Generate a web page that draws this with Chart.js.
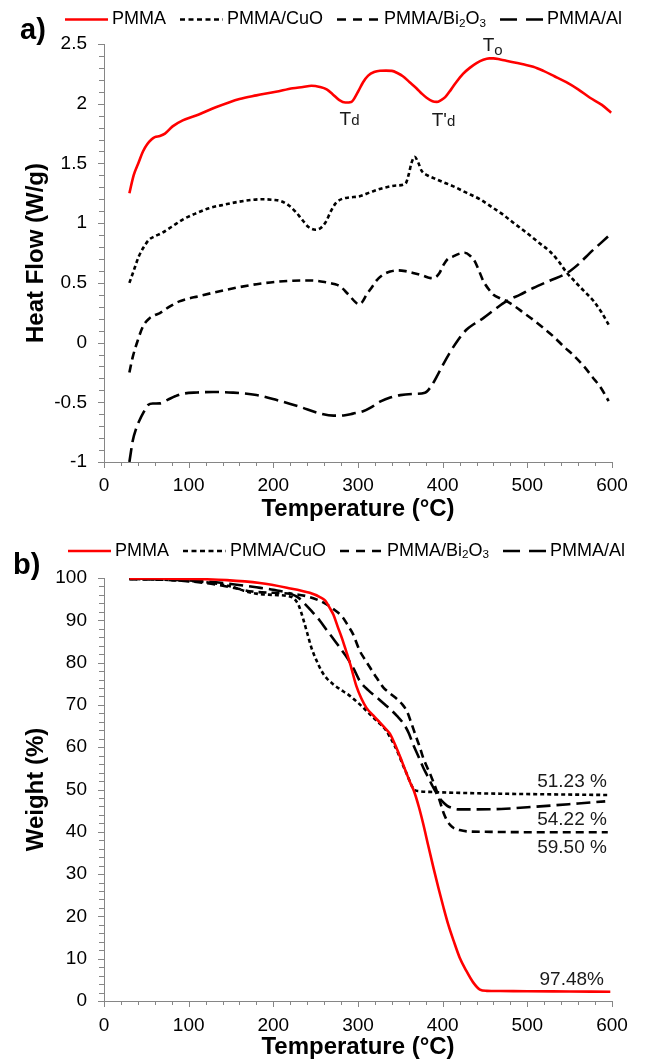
<!DOCTYPE html>
<html>
<head>
<meta charset="utf-8">
<script src="https://cdn.jsdelivr.net/npm/chart.js@4.4.0/dist/chart.umd.min.js"></script>
<style>
  html, body { margin: 0; padding: 0; background: #fff; }
  #wrap { position: relative; width: 646px; height: 1063px; }
  canvas { position: absolute; left: 0; }
  #dsc { top: 0; }
  #tga { top: 532px; }
</style>
</head>
<body>
<div id="wrap">
  <canvas id="dsc" width="646" height="532"></canvas>
  <canvas id="tga" width="646" height="531"></canvas>
</div>
<script>
// ---- data ----
const seriesNames = ["PMMA", "PMMA/CuO", "PMMA/Bi2O3", "PMMA/Al"];

const tempTicks = [0, 100, 200, 300, 400, 500, 600];
const heatTicks = [-1, -0.5, 0, 0.5, 1, 1.5, 2, 2.5];
const weightTicks = [0, 10, 20, 30, 40, 50, 60, 70, 80, 90, 100];

// a) heat flow (W/g)
const pmmaDscT = [30, 35, 41, 46, 51, 56, 60, 66, 72, 81, 93, 112, 132, 160, 180, 203, 223, 235, 245, 255, 263, 270, 278, 285, 292, 300, 306, 312, 319, 326, 333, 340, 347, 353, 361, 369, 376, 381, 388, 393, 398, 403, 410, 416, 424, 432, 440, 448, 455, 460, 468, 475, 485, 495, 507, 519, 532, 546, 560, 574, 588, 599];
const pmmaDscV = [1.25, 1.40, 1.51, 1.60, 1.66, 1.70, 1.72, 1.73, 1.75, 1.81, 1.86, 1.91, 1.97, 2.04, 2.07, 2.10, 2.13, 2.14, 2.15, 2.14, 2.12, 2.08, 2.03, 2.01, 2.015, 2.10, 2.18, 2.235, 2.265, 2.276, 2.277, 2.275, 2.255, 2.23, 2.18, 2.13, 2.08, 2.05, 2.02, 2.015, 2.03, 2.055, 2.12, 2.18, 2.25, 2.30, 2.34, 2.368, 2.38, 2.38, 2.37, 2.36, 2.345, 2.33, 2.31, 2.275, 2.23, 2.18, 2.12, 2.05, 1.99, 1.925];

const cuoDscT = [30, 35, 41, 47, 53, 60, 69, 80, 93, 108, 124, 142, 160, 175, 187, 200, 209, 218, 227, 235, 242, 250, 256, 262, 268, 274, 282, 290, 302, 315, 330, 345, 356, 360, 363, 367, 371, 375, 382, 390, 400, 412, 428, 444, 458, 471, 485, 499, 513, 527, 537, 546, 555, 563, 570, 578, 587, 596];
const cuoDscV = [0.50, 0.60, 0.72, 0.80, 0.86, 0.89, 0.92, 0.97, 1.03, 1.08, 1.125, 1.155, 1.18, 1.195, 1.20, 1.195, 1.185, 1.15, 1.09, 1.02, 0.965, 0.945, 0.96, 1.01, 1.10, 1.17, 1.205, 1.215, 1.225, 1.26, 1.295, 1.315, 1.33, 1.41, 1.50, 1.555, 1.51, 1.44, 1.40, 1.375, 1.345, 1.31, 1.255, 1.20, 1.135, 1.073, 0.995, 0.92, 0.84, 0.76, 0.68, 0.59, 0.52, 0.46, 0.41, 0.35, 0.26, 0.15];

const biDscT = [30, 34, 40, 46, 54, 60, 66, 75, 89, 113, 145, 184, 223, 245, 263, 272, 279, 285, 291, 296, 301, 305, 310, 316, 322, 330, 338, 347, 356, 365, 377, 386, 391, 396, 401, 406, 412, 420, 426, 432, 438, 443, 448, 454, 460, 468, 476, 486, 496, 508, 519, 531, 543, 555, 567, 577, 587, 596];
const biDscV = [-0.25, -0.12, 0.02, 0.135, 0.205, 0.23, 0.247, 0.29, 0.345, 0.39, 0.443, 0.493, 0.518, 0.52, 0.504, 0.49, 0.47, 0.43, 0.385, 0.345, 0.32, 0.34, 0.40, 0.46, 0.52, 0.57, 0.595, 0.605, 0.598, 0.583, 0.56, 0.54, 0.545, 0.58, 0.65, 0.70, 0.72, 0.745, 0.752, 0.73, 0.68, 0.60, 0.515, 0.45, 0.40, 0.37, 0.345, 0.30, 0.247, 0.185, 0.122, 0.05, -0.033, -0.11, -0.20, -0.29, -0.38, -0.49];

const alDscT = [30, 34, 38, 42, 47, 52, 58, 66, 75, 84, 92, 110, 129, 152, 180, 204, 231, 255, 271, 283, 294, 306, 316, 326, 338, 350, 365, 379, 386, 393, 400, 408, 418, 428, 438, 448, 462, 475, 491, 507, 527, 547, 561, 574, 587, 600];
const alDscV = [-1.0, -0.82, -0.72, -0.65, -0.58, -0.523, -0.51, -0.509, -0.48, -0.45, -0.43, -0.418, -0.414, -0.419, -0.439, -0.481, -0.537, -0.593, -0.612, -0.61, -0.595, -0.575, -0.54, -0.495, -0.46, -0.44, -0.43, -0.42, -0.37, -0.285, -0.19, -0.09, 0.02, 0.107, 0.16, 0.205, 0.28, 0.345, 0.40, 0.457, 0.52, 0.583, 0.66, 0.751, 0.835, 0.919];

// b) weight (%)
const pmmaTgaT = [30, 60, 100, 145, 184, 216, 243, 255, 261, 267, 271, 276, 281, 286, 291, 298, 304, 310, 318, 326, 333, 338, 344, 350, 356, 362, 366, 372, 377, 383, 389, 395, 401, 407, 413, 420, 428, 436, 444, 452, 468, 500, 550, 598];
const pmmaTgaV = [99.9, 99.9, 99.8, 99.5, 98.8, 97.7, 96.5, 95.5, 94.7, 92.8, 91.3, 88.5, 85.8, 82.7, 79.5, 74.5, 71.5, 69.3, 67.5, 65.8, 64.3, 63.1, 60.5, 57.6, 54.5, 51.5, 49.7, 45.8, 41.9, 36.7, 31.6, 26.7, 22.1, 17.8, 14.2, 10.3, 7.1, 4.4, 2.7, 2.4, 2.35, 2.3, 2.25, 2.2];

const cuoTgaT = [30, 80, 120, 150, 165, 180, 200, 215, 224, 230, 235, 240, 245, 251, 257, 263, 270, 278, 290, 300, 310, 318, 326, 333, 338, 343, 348, 353, 358, 362, 366, 372, 390, 420, 470, 530, 595];
const cuoTgaV = [99.8, 99.5, 99.0, 98.0, 97.0, 96.3, 96.0, 95.8, 95.2, 93.5, 90.5, 87.0, 83.5, 80.5, 78.0, 76.3, 75.0, 73.8, 72.2, 70.5, 68.6, 67.0, 65.5, 64.0, 62.3, 60.5, 58.3, 55.8, 53.5, 51.5, 50.0, 49.6, 49.4, 49.2, 49.0, 48.85, 48.7];

const biTgaT = [30, 80, 120, 150, 175, 200, 220, 243, 262, 272, 282, 288, 294, 302, 308, 314, 322, 330, 338, 346, 352, 358, 363, 368, 373, 377, 382, 387, 393, 397, 401, 405, 409, 413, 420, 429, 450, 508, 595];
const biTgaV = [99.7, 99.5, 98.8, 97.8, 96.8, 96.5, 96.3, 95.5, 93.9, 92.5, 90.7, 88.8, 86.8, 82.8, 80.8, 78.9, 76.4, 74.1, 72.7, 71.4, 70.2, 68.4, 65.7, 62.8, 60.0, 57.5, 55.1, 52.8, 49.6, 47.0, 44.5, 42.7, 41.6, 40.9, 40.4, 40.1, 40.0, 39.9, 39.9];

const alTgaT = [30, 80, 120, 150, 180, 200, 220, 230, 237, 245, 255, 263, 271, 279, 287, 295, 302, 312, 322, 330, 338, 346, 354, 360, 365, 371, 377, 382, 387, 393, 399, 405, 410, 419, 440, 469, 500, 528, 560, 592];
const alTgaV = [99.9, 99.6, 99.2, 98.6, 97.8, 97.2, 96.3, 95.3, 93.9, 92.2, 89.9, 87.7, 85.6, 83.4, 81.2, 78.5, 75.7, 73.5, 71.8, 70.4, 69.0, 67.4, 65.5, 63.3, 60.7, 58.0, 55.2, 53.2, 51.2, 49.0, 47.3, 46.2, 45.7, 45.3, 45.3, 45.4, 45.8, 46.2, 46.7, 47.2];

// ---- styling ----
const FONT = "'Liberation Sans', Arial, sans-serif";
const AXIS_GREY = "#868686";

function zip(xs, ys) {
    return xs.map((x, i) => ({ x: x, y: ys[i] }));
}

function makeDatasets(sets) {
    const looks = [
        { color: "#ff0000", dash: [], legendDash: [] },
        { color: "#000000", dash: [4, 3], legendDash: [5, 3.5] },
        { color: "#000000", dash: [8, 5], legendDash: [9, 7] },
        { color: "#000000", dash: [14, 6], legendDash: [17, 9] },
    ];
    return sets.map((pts, i) => ({
        label: seriesNames[i],
        data: pts,
        borderColor: looks[i].color,
        borderDash: looks[i].dash,
        legendDash: looks[i].legendDash,
        borderWidth: 2.6,
        pointRadius: 0,
        fill: false,
        tension: 0.4,
        cubicInterpolationMode: "monotone",
    }));
}

// text with digits after a letter set as subscripts (Bi2O3)
function drawRich(ctx, text, x, y, size) {
    let cx = x;
    for (let i = 0; i < text.length; i++) {
        const c = text[i];
        const sub = /\d/.test(c) && i > 0 && /[A-Za-z]/.test(text[i - 1]);
        const s = sub ? size * 0.65 : size;
        ctx.font = s + "px " + FONT;
        ctx.fillText(c, cx, sub ? y + size * 0.22 : y);
        cx += ctx.measureText(c).width;
    }
    return cx - x;
}

const extras = {
    id: "extras",
    afterDraw(chart, args, opts) {
        const ctx = chart.ctx;
        const xs = chart.scales.x, ys = chart.scales.y;
        ctx.save();

        // minor + major tick marks
        ctx.strokeStyle = AXIS_GREY;
        ctx.lineWidth = 1;
        ctx.beginPath();
        let n = Math.round((xs.max - xs.min) / opts.xMinor);
        for (let i = 0; i <= n; i++) {
            const v = xs.min + i * opts.xMinor;
            const major = Math.abs(v / opts.xMajor - Math.round(v / opts.xMajor)) < 1e-6;
            const px = Math.round(xs.getPixelForValue(v)) + 0.5;
            ctx.moveTo(px, xs.top);
            ctx.lineTo(px, xs.top + (major ? 6 : 4));
        }
        n = Math.round((ys.max - ys.min) / opts.yMinor);
        for (let i = 0; i <= n; i++) {
            const v = ys.min + i * opts.yMinor;
            const major = Math.abs(v / opts.yMajor - Math.round(v / opts.yMajor)) < 1e-6;
            const py = Math.round(ys.getPixelForValue(v)) + 0.5;
            ctx.moveTo(ys.right, py);
            ctx.lineTo(ys.right - (major ? 6 : 5), py);
        }
        ctx.stroke();

        // legend row
        ctx.fillStyle = "#000";
        ctx.textBaseline = "middle";
        ctx.textAlign = "left";
        let x = opts.legendX;
        const ly = opts.legendY;
        chart.data.datasets.forEach(ds => {
            ctx.strokeStyle = ds.borderColor;
            ctx.lineWidth = 2.6;
            ctx.setLineDash(ds.legendDash);
            ctx.beginPath();
            ctx.moveTo(x, ly);
            ctx.lineTo(x + 43, ly);
            ctx.stroke();
            ctx.setLineDash([]);
            const w = drawRich(ctx, ds.label, x + 47, ly, 18);
            x += 47 + w + 14;
        });

        // panel letter
        ctx.textBaseline = "alphabetic";
        ctx.font = "bold 29px " + FONT;
        ctx.fillText(opts.panel, opts.panelX, opts.panelY);

        // text notes placed in data coordinates
        ctx.fillStyle = "#1a1a1a";
        opts.notes.forEach(nt => {
            const px = xs.getPixelForValue(nt.x);
            const py = ys.getPixelForValue(nt.y);
            ctx.font = "19px " + FONT;
            const mainW = ctx.measureText(nt.text).width;
            ctx.font = "15px " + FONT;
            const smallW = nt.small ? ctx.measureText(nt.small).width : 0;
            let left = px;
            if (nt.align === "center") left = px - (mainW + smallW) / 2;
            if (nt.align === "right") left = px - (mainW + smallW);
            ctx.font = "19px " + FONT;
            ctx.fillText(nt.text, left, py);
            if (nt.small) {
                ctx.font = "15px " + FONT;
                ctx.fillText(nt.small, left + mainW, py + (nt.drop || 0));
            }
        });
        ctx.restore();
    },
};

function makeOptions(cfg) {
    return {
        responsive: false,
        animation: false,
        layout: { padding: { top: cfg.top, right: 34, left: 0, bottom: 0 } },
        plugins: {
            legend: { display: false },
            tooltip: { enabled: false },
            extras: cfg.extras,
        },
        scales: {
            x: {
                type: "linear",
                min: 0,
                max: 600,
                afterBuildTicks: s => { s.ticks = tempTicks.map(v => ({ value: v })); },
                afterFit: s => { s.height = cfg.xHeight; },
                grid: { display: false, drawTicks: false },
                border: { display: true, color: AXIS_GREY, width: 1 },
                ticks: {
                    font: { family: FONT, size: 19 }, color: "#000",
                    padding: cfg.xTickPad, maxRotation: 0,
                    callback: v => String(v),
                },
                title: {
                    display: true,
                    text: "Temperature (°C)",
                    color: "#000",
                    font: { family: FONT, size: 24, weight: "bold" },
                    padding: { top: 0, bottom: cfg.xTitlePad },
                },
            },
            y: {
                type: "linear",
                min: cfg.yMin,
                max: cfg.yMax,
                afterBuildTicks: s => { s.ticks = cfg.yTicks.map(v => ({ value: v })); },
                afterFit: s => { s.width = 104; },
                grid: { display: false, drawTicks: false },
                border: { display: true, color: AXIS_GREY, width: 1 },
                ticks: {
                    font: { family: FONT, size: 19 }, color: "#000", padding: 17,
                    callback: v => String(v),
                },
                title: {
                    display: true,
                    text: cfg.yTitle,
                    color: "#000",
                    font: { family: FONT, size: 24, weight: "bold" },
                    padding: { top: 22, bottom: 0 },
                },
            },
        },
    };
}

new Chart(document.getElementById("dsc"), {
    type: "line",
    data: {
        datasets: makeDatasets([
            zip(pmmaDscT, pmmaDscV),
            zip(cuoDscT, cuoDscV),
            zip(biDscT, biDscV),
            zip(alDscT, alDscV),
        ]),
    },
    options: makeOptions({
        top: 44,
        xHeight: 70,
        xTickPad: 12,
        xTitlePad: 8,
        yMin: -1,
        yMax: 2.5,
        yTicks: heatTicks,
        yTitle: "Heat Flow (W/g)",
        extras: {
            xMinor: 20, xMajor: 100, yMinor: 0.1, yMajor: 0.5,
            legendX: 65, legendY: 19.5,
            panel: "a)", panelX: 20, panelY: 39,
            notes: [
                { text: "T", small: "d", x: 290, y: 1.82, align: "center" },
                { text: "T'", small: "d", x: 401, y: 1.81, align: "center" },
                { text: "T", small: "o", x: 459, y: 2.445, align: "center", drop: 4 },
            ],
        },
    }),
    plugins: [extras],
});

new Chart(document.getElementById("tga"), {
    type: "line",
    data: {
        datasets: makeDatasets([
            zip(pmmaTgaT, pmmaTgaV),
            zip(cuoTgaT, cuoTgaV),
            zip(biTgaT, biTgaV),
            zip(alTgaT, alTgaV),
        ]),
    },
    options: makeOptions({
        top: 46,
        xHeight: 62,
        xTickPad: 13,
        xTitlePad: 1,
        yMin: 0,
        yMax: 100,
        yTicks: weightTicks,
        yTitle: "Weight (%)",
        extras: {
            xMinor: 20, xMajor: 100, yMinor: 2, yMajor: 10,
            legendX: 68, legendY: 19,
            panel: "b)", panelX: 13, panelY: 42,
            notes: [
                { text: "51.23 %", x: 594, y: 50.5, align: "right" },
                { text: "54.22 %", x: 594, y: 41.5, align: "right" },
                { text: "59.50 %", x: 594, y: 34.9, align: "right" },
                { text: "97.48%", x: 590.5, y: 3.9, align: "right" },
            ],
        },
    }),
    plugins: [extras],
});
</script>
</body>
</html>
